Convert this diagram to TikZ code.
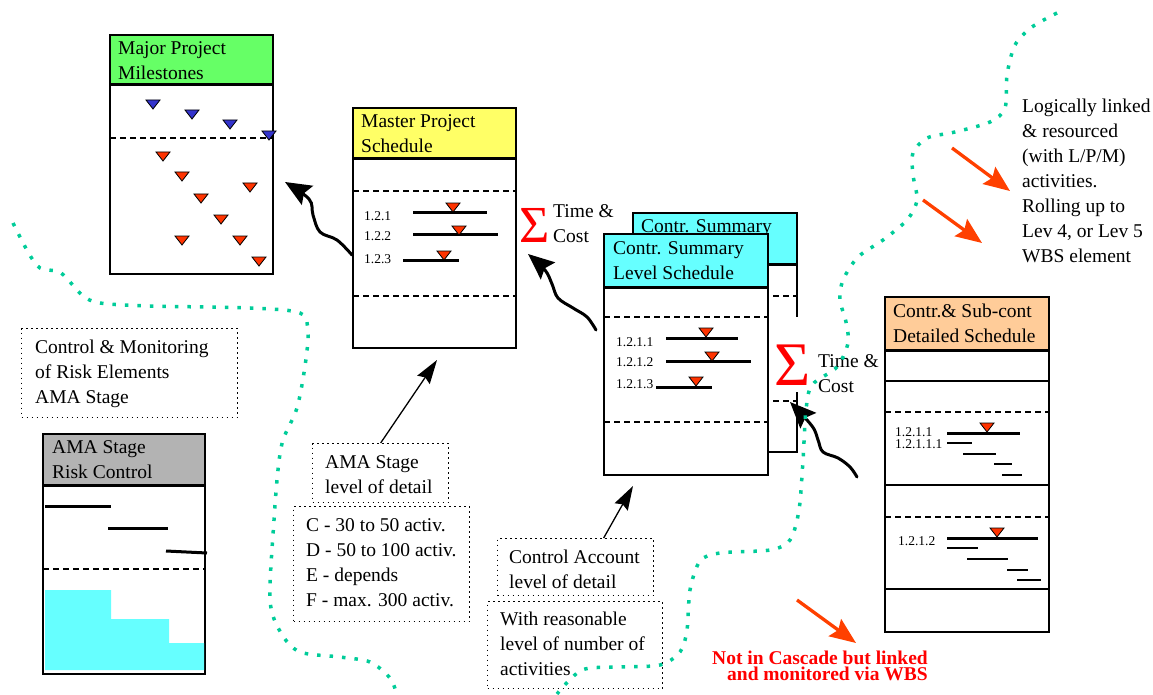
\documentclass[tikz,border=0pt]{standalone}
\usepackage{fontspec}
\setmainfont{Liberation Serif}
\usepackage{xcolor}
\usetikzlibrary{positioning, calc, arrows.meta}

\definecolor{msgreen}{RGB}{102,255,102}
\definecolor{mpyellow}{RGB}{255,255,102}
\definecolor{cscyan}{RGB}{102,255,255}
\definecolor{dspeach}{RGB}{255,204,153}
\definecolor{rcgrey}{RGB}{179,179,179}
\definecolor{wbsgreen}{RGB}{0,204,153}
\definecolor{msblue}{RGB}{51,51,204}
\definecolor{msred}{RGB}{255,51,0}
\definecolor{notered}{RGB}{255,64,0}

\newcommand{\txt}{\fontsize{19.5}{25}\selectfont}
\newcommand{\lbl}{\fontsize{13.5}{12}\selectfont}
\newcommand{\mile}[3]{\draw[line width=0.8pt, fill=#3] ({#1-7},#2) -- ({#1+7},#2) -- (#1,{#2+9}) -- cycle;}

\begin{document}
\begin{tikzpicture}[x=1pt, y=-1pt,
    frame/.style={draw, line width=1.5pt},
    hdrline/.style={line width=3pt},
    dashrow/.style={line width=1.3pt, dash pattern=on 6pt off 4pt},
    bar/.style={line width=3pt},
    thinbar/.style={line width=1.3pt},
    hdrtext/.style={anchor=north west, inner sep=0pt, align=left, font=\txt},
    rowlbl/.style={anchor=base west, inner sep=0pt, font=\lbl},
    note/.style={draw, line width=1.3pt, dash pattern=on 1.5pt off 3.5pt, anchor=north west, inner sep=0pt},
    sigma/.style={anchor=base, text=red, inner sep=0pt},
    pointer/.style={-{Stealth[length=24pt, width=15pt, inset=3pt]}, line width=1.3pt},
    rollup/.style={-{Stealth[length=26pt, width=22pt, inset=4pt]}, line width=3pt, line cap=round},
    redarr/.style={-{Stealth[length=26pt, width=21pt, inset=4pt]}, draw=notered, fill=notered, line width=3.3pt},
    wbsline/.style={wbsgreen, line width=3.5pt, dash pattern=on 3.5pt off 9pt}]
  \useasboundingbox (0,0) rectangle (1153,695);

  % major project milestones
  \draw[frame, fill=msgreen] (110,35) rectangle (273,85);
  \draw[frame, fill=white] (110,85) rectangle (273,274);
  \draw[hdrline] (110,85) -- (273,85);
  \draw[dashrow] (110,138) -- (273,138);
  \node[hdrtext] (mstitle) at (118,41.5) {Major Project\\Milestones};
  \mile{153}{100}{msblue}
  \mile{192}{110}{msblue}
  \mile{230}{120}{msblue}
  \mile{269}{131}{msblue}
  \mile{163}{152}{msred}
  \mile{182}{172}{msred}
  \mile{250}{183}{msred}
  \mile{201}{194}{msred}
  \mile{221}{215}{msred}
  \mile{182}{236}{msred}
  \mile{240}{236}{msred}
  \mile{259}{257}{msred}

  % master project schedule
  \draw[frame, fill=mpyellow] (353,108) rectangle (516,159);
  \draw[frame, fill=white] (353,159) rectangle (516,348);
  \draw[hdrline] (353,159) -- (516,159);
  \draw[dashrow] (353,191) -- (516,191);
  \draw[dashrow] (353,296) -- (516,296);
  \node[hdrtext] (mpstitle) at (361,114.5) {Master Project\\Schedule};
  \node[rowlbl] (r121) at (364,220) {1.2.1};
  \draw[bar] (413,212) -- (487,212);
  \mile{453}{203}{msred}
  \node[rowlbl] (r122) at (364,240) {1.2.2};
  \draw[bar] (413,234) -- (498,234);
  \mile{459}{226}{msred}
  \node[rowlbl] (r123) at (364,263) {1.2.3};
  \draw[bar] (403,260) -- (459,260);
  \mile{444}{251}{msred}
  \node[sigma, font=\fontsize{52}{52}\selectfont] (sum1) at (535,242) {Σ};
  \node[hdrtext] (tc1) at (553,204.5) {Time \&\\Cost};

  % contr. summary level schedule (back sheet)
  \draw[frame, fill=cscyan] (633,213) rectangle (797,264);
  \draw[frame, fill=white] (633,264) rectangle (797,452);
  \draw[hdrline] (633,264) -- (797,264);
  \draw[dashrow] (633,296) -- (797,296);
  \draw[dashrow] (633,401) -- (797,401);
  \node[hdrtext] (csback) at (641,219.5) {Contr. Summary};

  % contr. summary level schedule (front sheet)
  \draw[frame, fill=cscyan] (604,234) rectangle (768,287);
  \draw[frame, fill=white] (604,287) rectangle (768,475);
  \draw[hdrline] (604,287) -- (768,287);
  \draw[dashrow] (604,317) -- (768,317);
  \draw[dashrow] (604,422) -- (768,422);
  \node[hdrtext] (cstitle) at (613,241.5) {Contr. Summary\\Level Schedule};
  \node[rowlbl] (r1211) at (616,346) {1.2.1.1};
  \draw[bar] (666,338) -- (738,338);
  \mile{706}{328}{msred}
  \node[rowlbl] (r1212) at (616,366) {1.2.1.2};
  \draw[bar] (666,361) -- (751,361);
  \mile{712}{352}{msred}
  \node[rowlbl] (r1213) at (616,388) {1.2.1.3};
  \draw[bar] (656,387) -- (712,387);
  \mile{696}{377}{msred}
  \node[sigma, font=\fontsize{62}{62}\selectfont, fill=white, text height=68pt, text depth=7pt] (sum2) at (793,385) {Σ};
  \node[hdrtext] (tc2) at (818,354.5) {Time \&\\Cost};

  % contr. & sub-cont detailed schedule
  \draw[frame, fill=dspeach] (885,297) rectangle (1049,350);
  \draw[frame, fill=white] (885,350) rectangle (1049,632);
  \draw[hdrline] (885,350) -- (1049,350);
  \draw[frame] (885,381) -- (1049,381);
  \draw[line width=2.2pt] (885,485) -- (1049,485);
  \draw[line width=2pt] (885,589) -- (1049,589);
  \draw[dashrow] (885,412) -- (1049,412);
  \draw[dashrow] (885,517) -- (1049,517);
  \node[hdrtext] (dstitle) at (893,303.5) {Contr.\& Sub-cont\\Detailed Schedule};
  \node[rowlbl] (d1211) at (895,436) {1.2.1.1};
  \node[rowlbl] (d12111) at (895,448) {1.2.1.1.1};
  \draw[bar] (947,433) -- (1020,433);
  \mile{987}{423}{msred}
  \draw[thinbar] (947,443) -- (972,443);
  \draw[thinbar] (963,454) -- (996,454);
  \draw[thinbar] (994,464) -- (1012,464);
  \draw[thinbar] (1002,475) -- (1022,475);
  \node[rowlbl] (d1212) at (898,545) {1.2.1.2};
  \draw[bar] (947,538) -- (1038,538);
  \mile{997}{528}{msred}
  \draw[thinbar] (947,548) -- (978,548);
  \draw[thinbar] (967,559) -- (1008,559);
  \draw[thinbar] (1007,570) -- (1028,570);
  \draw[thinbar] (1017,580) -- (1041,580);

  % AMA stage risk control
  \draw[frame, fill=rcgrey] (43,434) rectangle (205,485);
  \draw[frame, fill=white] (43,485) rectangle (205,674);
  \draw[hdrline] (43,485) -- (205,485);
  \node[hdrtext] (rctitle) at (52,440) {AMA Stage\\Risk Control};
  \draw[bar] (45,506) -- (111,506);
  \draw[bar] (108,528) -- (168,528);
  \draw[bar] (166,551) -- (207,553);
  \draw[dashrow] (43,569) -- (205,569);
  \fill[cscyan] (45,590) -- (111,590) -- (111,619) -- (169,619) -- (169,643)
    -- (204,643) -- (204,670) -- (45,670) -- cycle;

  % notes
  \node[note, minimum width=216pt, minimum height=89pt] (cmr) at (21,328) {};
  \node[hdrtext] (cmrtext) at (35,339.7) {Control \& Monitoring\\of Risk Elements\\AMA Stage};
  \node[note, minimum width=136pt, minimum height=59pt] (amadet) at (312,443) {};
  \node[hdrtext] (amadettext) at (325,455.7) {AMA Stage\\level of detail};
  \node[note, minimum width=176pt, minimum height=115pt] (actcount) at (293,506) {};
  \node[hdrtext] (actcounttext) at (306,518.7) {C - 30 to 50 activ.\\D - 50 to 100 activ.\\E - depends\\F - max. 300 activ.};
  \node[note, minimum width=156pt, minimum height=57pt] (cadet) at (497,538) {};
  \node[hdrtext] (cadettext) at (509,549.7) {Control Account\\level of detail};
  \node[note, minimum width=175pt, minimum height=87pt] (reason) at (487,601) {};
  \node[hdrtext] (reasontext) at (500,611.7) {With reasonable\\level of number of\\activities};
  \node[hdrtext] (wbsnote) at (1022,98.5)
    {Logically linked\\\& resourced\\(with L/P/M)\\activities.\\Rolling up to\\Lev 4, or Lev 5\\WBS element};
  \node[anchor=north east, align=right, inner sep=0pt, text=red, font=\bfseries\fontsize{19.5}{16}\selectfont] (cascade) at (928,651)
    {Not in Cascade but linked\\and monitored via WBS};

  % arrows
  \coordinate (mpsfoot) at (437,360);
  \coordinate (csfoot) at (633,486);
  \draw[pointer] (amadet.north) -- (mpsfoot);
  \draw[pointer] ([xshift=28pt]cadet.north) -- (csfoot);

  \coordinate (mpsout) at (352,255);
  \coordinate (msin) at (285,182);
  \coordinate (csout) at (596,330);
  \coordinate (mpsin) at (528,254);
  \coordinate (dsout) at (857,477);
  \coordinate (csin) at (790,402);
  \draw[rollup] plot[smooth, tension=0.6] coordinates {(mpsout) (337,240) (320,232) (313,215) (309,199) (msin)};
  \draw[rollup] plot[smooth, tension=0.6] coordinates {(csout) (587,317) (573,308) (558,298) (552,284) (545,270) (mpsin)};
  \draw[rollup] plot[smooth, tension=0.6] coordinates {(dsout) (850,467) (838,458) (823,452) (818,440) (812,426) (csin)};

  \coordinate (ra1) at (952,148);
  \coordinate (rb1) at (1010,191);
  \coordinate (ra2) at (923,200);
  \coordinate (rb2) at (982,243);
  \coordinate (ra3) at (797,600);
  \coordinate (rb3) at (856,643);
  \draw[redarr] (ra1) -- (rb1);
  \draw[redarr] (ra2) -- (rb2);
  \draw[redarr] (ra3) -- (rb3);

  % WBS boundaries
  \draw[wbsline] plot[smooth, tension=0.5] coordinates {(13,223) (28,252) (40,268) (61,273) (82,295)
    (100,303) (150,306) (250,308) (300,313) (308,332) (305,366) (297,408) (283,440) (278,470)
    (274,520) (270,600) (281,633) (300,652) (340,657) (370,662) (390,678) (397,695)};
  \draw[wbsline] plot[smooth, tension=0.5] coordinates {(1057,13) (1032,27) (1015,45) (1007,75)
    (1005,108) (990,122) (955,132) (927,138) (913,153) (913,175) (917,200) (907,220) (883,240)
    (858,257) (843,280) (840,300) (846,322) (848,343) (837,367) (812,385) (806,410) (803,460)
    (799,510) (790,540) (770,550) (720,553) (700,561) (690,590) (687,630) (680,652) (660,665)
    (620,667) (582,670) (557,694)};
\end{tikzpicture}
\end{document}
